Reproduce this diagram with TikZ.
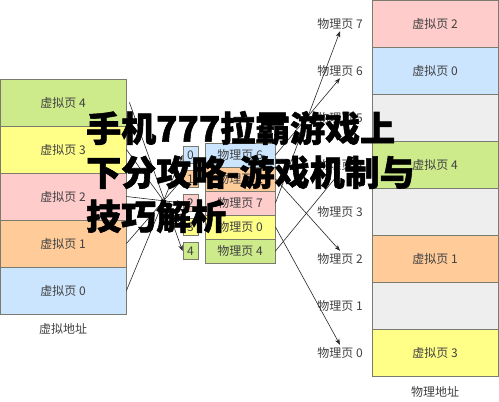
\documentclass[tikz,border=0pt]{standalone}
\usepackage{fontspec}
\usepackage{tikz}
\usetikzlibrary{arrows.meta}
\usetikzlibrary{positioning}
\newfontfamily\cjk{Noto Sans CJK SC}
\newfontfamily\titlefont{Noto Sans CJK SC}[BoldFeatures={FakeBold=1.6}]
\definecolor{pgreen}{HTML}{CDEB8B}
\definecolor{pyellow}{HTML}{FFFF88}
\definecolor{ppink}{HTML}{FFCCCC}
\definecolor{porange}{HTML}{FFCC99}
\definecolor{pblue}{HTML}{CCE5FF}
\definecolor{pgray}{HTML}{EEEEEE}
\definecolor{pborder}{HTML}{7A7A6E}
\colorlet{darkline}{black!85}

\tikzset{
  page/.style={draw=pborder, line width=0.9pt, minimum width=126pt, minimum height=47pt,
    inner sep=0pt, font=\cjk\fontsize{12}{14}\selectfont, text=black!75},
  entry/.style={page, minimum width=70pt, minimum height=24pt},
  idx/.style={page, minimum width=15pt, minimum height=17pt},
  plabel/.style={font=\cjk\fontsize{12}{14}\selectfont, text=black!75, inner sep=2pt},
  map/.style={darkline, line width=0.6pt, -{Stealth[length=6pt,width=4.5pt]}},
}

\begin{document}
\begin{tikzpicture}[x=1pt,y=-1pt]
  \useasboundingbox (0,0) rectangle (499,402);
  % virtual address
  \node[page, fill=pgreen]  (v4) at (63,102.5) {虚拟页 4};
  \node[page, fill=pyellow] (v3) at (63,149.5) {虚拟页 3};
  \node[page, fill=ppink]   (v2) at (63,196.5) {虚拟页 2};
  \node[page, fill=porange] (v1) at (63,243.5) {虚拟页 1};
  \node[page, fill=pblue]   (v0) at (63,290.5) {虚拟页 0};
  \node[plabel] (vaddr) at (63,329) {虚拟地址};
  % page table
  \node[idx, fill=pblue]   (i0) at (190.5,155) {0};
  \node[idx, fill=porange] (i1) at (190.5,179) {1};
  \node[idx, fill=ppink]   (i2) at (190.5,203) {2};
  \node[idx, fill=pyellow] (i3) at (190.5,227) {3};
  \node[idx, fill=pgreen]  (i4) at (190.5,251) {4};
  \node[entry, fill=pblue]   (e0) at (240,155) {物理页 6};
  \node[entry, fill=porange] (e1) at (240,179) {物理页 2};
  \node[entry, fill=ppink]   (e2) at (240,203) {物理页 7};
  \node[entry, fill=pyellow] (e3) at (240,227) {物理页 0};
  \node[entry, fill=pgreen]  (e4) at (240,251) {物理页 4};
  % physical address
  \node[page, fill=ppink]   (r7) at (435,23.5)  {虚拟页 2};
  \node[page, fill=pblue]   (r6) at (435,70.5)  {虚拟页 0};
  \node[page, fill=pgray]   (r5) at (435,117.5) {};
  \node[page, fill=pgreen]  (r4) at (435,164.5) {虚拟页 4};
  \node[page, fill=pgray]   (r3) at (435,211.5) {};
  \node[page, fill=porange] (r2) at (435,258.5) {虚拟页 1};
  \node[page, fill=pgray]   (r1) at (435,305.5) {};
  \node[page, fill=pyellow] (r0) at (435,352.5) {虚拟页 3};
  \node[plabel] (paddr) at (435,392) {物理地址};
  \foreach \n/\y in {7/23.5,6/70.5,5/117.5,4/164.5,3/211.5,2/258.5,1/305.5,0/352.5}
    \node[plabel] (p\n) at (340,\y) {物理页 \n};
  % mappings
  \draw[map] (v0.east) -- (i0.west);
  \draw[map] (v1.east) -- (i1.west);
  \draw[map] (v2.east) -- (i2.west);
  \draw[map] (v3.east) -- (i3.west);
  \draw[map] ([xshift=3pt]v4.east) -- (i4.west);
  \draw[map] (e0.east) -- (p6.south);
  \draw[map] (e1.east) -- (p2.north);
  \draw[map] (e2.east) -- (p7.south);
  \draw[map] (e3.east) -- (p0.north);
  \draw[map] (e4.east) -- (p4.south);
  % title
  \node[anchor=west, align=left, inner sep=0pt,
    font=\titlefont\bfseries\fontsize{35}{44}\selectfont] (title) at (86,172)
    {手机777拉霸游戏上\\下分攻略-游戏机制与\\技巧解析};
\end{tikzpicture}
\end{document}
